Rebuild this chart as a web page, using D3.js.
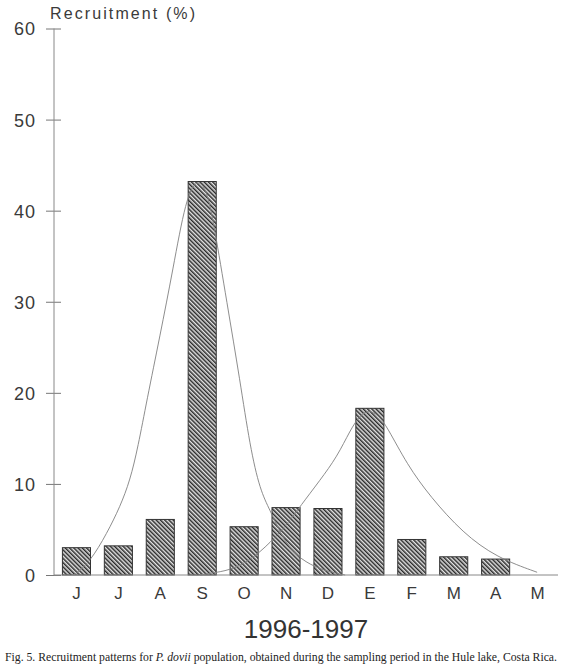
<!DOCTYPE html>
<html>
<head>
<meta charset="utf-8">
<script src="https://cdn.jsdelivr.net/npm/d3@7"></script>
<style>
  body { margin: 0; background: #fff; }
  svg { display: block; }
</style>
</head>
<body>
<script>
// months of the sampling period (June 1996 - May 1997)
var months = ["J", "J", "A", "S", "O", "N", "D", "E", "F", "M", "A", "M"];
// recruitment (%) per month
var recruitment = [3.0, 3.2, 6.1, 43.2, 5.3, 7.4, 7.3, 18.3, 3.9, 2.0, 1.75, 0];
var yTicks = [0, 10, 20, 30, 40, 50, 60];

// fitted curves: position in month units, value in %
var curve1X = [-0.06, 0.32, 0.73, 1.04, 1.28, 1.47, 1.68, 1.99, 2.30, 2.61, 2.88, 3.11, 3.28, 3.59, 3.90, 4.14, 4.38, 4.62, 4.86, 5.17, 5.58, 5.98, 6.41];
var curve1Y = [0, 1.4, 4.6, 7.5, 10.4, 14.1, 19.2, 26.2, 33.5, 41.4, 43.6, 42.3, 38.5, 29.9, 21.4, 14.1, 9.3, 7.1, 4.6, 2.4, 1.1, 0.4, 0];
var curve2X = [2.95, 3.19, 3.66, 4.14, 4.62, 5.10, 5.33, 5.81, 6.22, 6.53, 6.77, 6.98, 7.19, 7.41, 7.89, 8.44, 9.22, 10.03, 10.99];
var curve2Y = [0, 0.2, 0.5, 1.6, 3.5, 6.0, 7.5, 10.4, 13.0, 15.9, 17.6, 18.1, 17.6, 16.3, 12.1, 8.6, 4.6, 1.9, 0.3];

var w = 563, h = 668;
var axisX = 54, plotTop = 28.5, plotBottom = 575;

var svg = d3.select("body").append("svg")
    .attr("width", w)
    .attr("height", h);

// hatch pattern for the bars
var defs = svg.append("defs");
var pat = defs.append("pattern")
    .attr("id", "hatch")
    .attr("patternUnits", "userSpaceOnUse")
    .attr("width", 3)
    .attr("height", 3)
    .attr("patternTransform", "rotate(-45)");
pat.append("rect").attr("width", 3).attr("height", 3).attr("fill", "#e4e4e4");
pat.append("line")
    .attr("x1", 0.75).attr("y1", 0).attr("x2", 0.75).attr("y2", 3)
    .attr("stroke", "#2a2a2a").attr("stroke-width", 1.5);

var x = d3.scaleBand()
    .domain(d3.range(months.length))
    .range([55.5, 558.5])
    .paddingInner(0.33)
    .paddingOuter(0.165);

var y = d3.scaleLinear()
    .domain([0, 60])
    .range([plotBottom, plotTop]);

// continuous scale for the curves, month index -> band centre
var xc = d3.scaleLinear()
    .domain([0, months.length - 1])
    .range([x(0) + x.bandwidth() / 2, x(months.length - 1) + x.bandwidth() / 2]);

// bars (May has no recruitment, so no bar)
var barData = recruitment.map(function (v, i) { return {i: i, v: v}; })
    .filter(function (d) { return d.v > 0; });

svg.selectAll("rect.bar")
    .data(barData)
    .enter()
    .append("rect")
    .attr("class", "bar")
    .attr("x", function (d) { return x(d.i); })
    .attr("y", function (d) { return y(d.v); })
    .attr("width", x.bandwidth())
    .attr("height", function (d) { return y(0) - y(d.v); })
    .attr("fill", "url(#hatch)")
    .attr("stroke", "#333")
    .attr("stroke-width", 1);

// curves
var line = d3.line()
    .x(function (d) { return xc(d[0]); })
    .y(function (d) { return y(d[1]); })
    .curve(d3.curveBasis);

[[curve1X, curve1Y], [curve2X, curve2Y]].forEach(function (c) {
    var pts = c[0].map(function (v, i) { return [v, c[1][i]]; });
    svg.append("path")
        .attr("d", line(pts))
        .attr("fill", "none")
        .attr("stroke", "#808080")
        .attr("stroke-width", 0.9);
});

// y axis
var yAxis = d3.axisLeft(y)
    .tickValues(yTicks)
    .tickSize(0)
    .tickPadding(0);
var gy = svg.append("g")
    .attr("transform", "translate(" + axisX + ",0)")
    .call(yAxis);
gy.select(".domain").remove();
gy.append("line")
    .attr("x1", 0).attr("x2", 0)
    .attr("y1", y(60)).attr("y2", y(0))
    .attr("stroke", "#888").attr("stroke-width", 1);
gy.selectAll(".tick").append("line")
    .attr("x1", -8).attr("x2", 7)
    .attr("stroke", "#777").attr("stroke-width", 1);
gy.selectAll(".tick text")
    .attr("x", -18)
    .attr("dy", "0.36em")
    .attr("fill", "#3a3a3a")
    .style("font-family", "'Liberation Sans', Arial, sans-serif")
    .style("font-size", "18px")
    .style("letter-spacing", "1px");

// baseline
svg.append("line")
    .attr("x1", axisX).attr("x2", 558)
    .attr("y1", plotBottom).attr("y2", plotBottom)
    .attr("stroke", "#888").attr("stroke-width", 1);

// x axis labels
var xAxis = d3.axisBottom(x)
    .tickFormat(function (i) { return months[i]; })
    .tickSize(0)
    .tickPadding(12);
var gx = svg.append("g")
    .attr("transform", "translate(0," + plotBottom + ")")
    .call(xAxis);
gx.select(".domain").remove();
gx.selectAll(".tick text")
    .attr("fill", "#3a3a3a")
    .style("font-family", "'Liberation Sans', Arial, sans-serif")
    .style("font-size", "17px");

// y title
svg.append("text")
    .attr("x", 50)
    .attr("y", 19)
    .attr("textLength", 145)
    .attr("lengthAdjust", "spacing")
    .attr("fill", "#3a3a3a")
    .style("font-family", "'Liberation Sans', Arial, sans-serif")
    .style("font-size", "16px")
    .text("Recruitment (%)");

// x title
svg.append("text")
    .attr("x", 306)
    .attr("y", 638)
    .attr("text-anchor", "middle")
    .attr("fill", "#333")
    .style("font-family", "'Liberation Sans', Arial, sans-serif")
    .style("font-size", "26px")
    .text("1996-1997");

// caption
var cap = svg.append("text")
    .attr("x", 5)
    .attr("y", 661)
    .attr("textLength", 552)
    .attr("lengthAdjust", "spacingAndGlyphs")
    .attr("fill", "#222")
    .style("font-family", "'Liberation Serif', 'Times New Roman', serif")
    .style("font-size", "11.5px");
cap.append("tspan").text("Fig. 5. Recruitment patterns for ");
cap.append("tspan").style("font-style", "italic").text("P. dovii");
cap.append("tspan").text(" population, obtained during the sampling period in the Hule lake, Costa Rica.");
</script>
</body>
</html>
